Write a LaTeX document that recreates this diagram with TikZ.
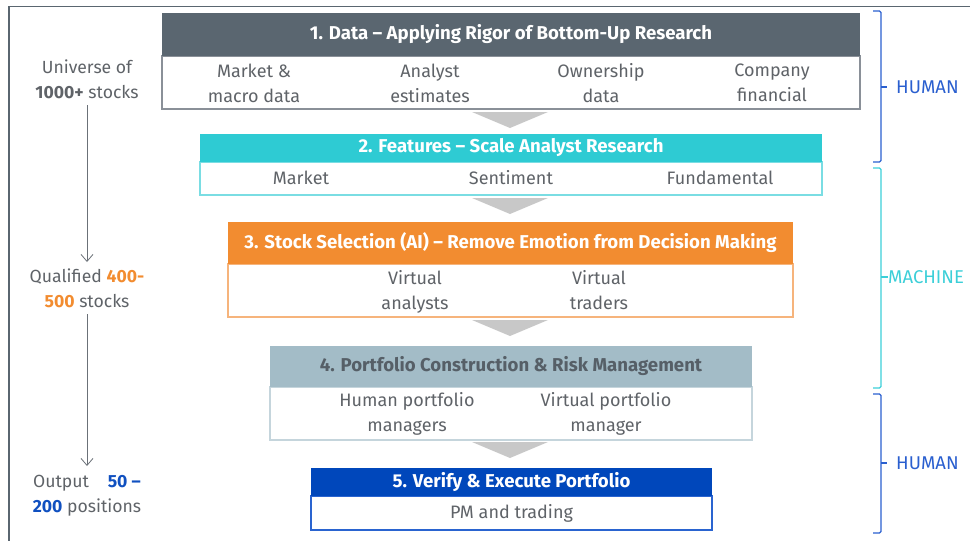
\documentclass[tikz,border=0pt]{standalone}
\usepackage{fontspec}
\setmainfont{Fira Sans}
\usetikzlibrary{arrows.meta}
\definecolor{hdrA}{HTML}{5A6670}
\definecolor{bdrA}{HTML}{8A9098}
\definecolor{hdrB}{HTML}{2ECBD3}
\definecolor{bdrB}{HTML}{7ADDE3}
\definecolor{hdrC}{HTML}{F28C30}
\definecolor{bdrC}{HTML}{F6B47C}
\definecolor{hdrD}{HTML}{A3BCC7}
\definecolor{bdrD}{HTML}{C5D5DC}
\definecolor{ttlD}{HTML}{565F67}
\definecolor{hdrE}{HTML}{0047BB}
\definecolor{bdrE}{HTML}{2A64D0}
\definecolor{txtG}{HTML}{5F6368}
\definecolor{brkB}{HTML}{2A5FCF}
\definecolor{brkC}{HTML}{3CCFD8}
\definecolor{orgT}{HTML}{F28C30}
\definecolor{bluT}{HTML}{1050C0}
\definecolor{chev}{HTML}{C8C8C8}
\definecolor{frm}{HTML}{5A6670}
\definecolor{arw}{HTML}{6B7178}
\tikzset{
  x=1pt, y=-1pt,
  hdr/.style={inner sep=0, outer sep=0, font=\fontsize{18.6}{22}\selectfont\bfseries, text=white},
  bodyrect/.style={inner sep=0, outer sep=0, fill=white, line width=1.2pt},
  item/.style={inner sep=0, anchor=north, align=center, text=txtG, font=\fontsize{18}{25}\selectfont, execute at begin node=\strut},
  side/.style={inner sep=0, align=center, text=txtG, font=\fontsize{17.6}{25}\selectfont},
  chevron/.style={fill=chev, draw=none},
  flow/.style={draw=arw, line width=0.8pt, -{Straight Barb[length=7pt, width=12pt, line width=0.8pt]}},
  brk/.style={line width=1.3pt, rounded corners=1.5pt},
  brklabel/.style={inner sep=0, anchor=west, font=\fontsize{18.5}{22}\selectfont}
}
\begin{document}
\begin{tikzpicture}
\useasboundingbox (0,0) rectangle (970,541);
% outer frame
\draw[frm, line width=1pt] (970,6.5) -- (8.5,6.5) -- (8.5,541);
\draw[frm, line width=2pt] (8.5,6.5) -- (8.5,541);

% chevrons
\fill[chevron] (472,112) -- (548,112) -- (510,128) -- cycle;
\fill[chevron] (472,198) -- (548,198) -- (510,214) -- cycle;
\fill[chevron] (472,320) -- (548,320) -- (510,336) -- cycle;
\fill[chevron] (472,442) -- (548,442) -- (510,458) -- cycle;

% box 1
\node[bodyrect, draw=bdrA, minimum width=698pt, minimum height=53pt] (b1) at (511,82.5) {};
\node[hdr, fill=hdrA, minimum width=698pt, minimum height=43pt] (h1) at (511,34.5) {1. Data – Applying Rigor of Bottom-Up Research};
\node[item] (i11) at (254,63.5) {Market \&\\macro data};
\node[item] (i12) at (430,63.5) {Analyst\\estimates};
\node[item] (i13) at (601,63.5) {Ownership\\data};
\node[item] (i14) at (772,63.5) {Company\\financial};

% box 2
\node[bodyrect, draw=bdrB, minimum width=622pt, minimum height=33pt] (b2) at (511,178.5) {};
\node[hdr, fill=hdrB, minimum width=622pt, minimum height=28pt] (h2) at (511,148) {2. Features – Scale Analyst Research};
\node[item] (i21) at (301,166.5) {Market};
\node[item] (i22) at (511,166.5) {Sentiment};
\node[item] (i23) at (720,166.5) {Fundamental};

% box 3
\node[bodyrect, draw=bdrC, minimum width=565pt, minimum height=53pt] (b3) at (510.5,290.5) {};
\node[hdr, fill=hdrC, minimum width=565pt, minimum height=42pt] (h3) at (510.5,243) {3. Stock Selection (AI) – Remove Emotion from Decision Making};
\node[item] (i31) at (415,270.5) {Virtual\\analysts};
\node[item] (i32) at (599,270.5) {Virtual\\traders};

% box 4
\node[bodyrect, draw=bdrD, minimum width=482pt, minimum height=53pt] (b4) at (511,413.5) {};
\node[hdr, fill=hdrD, text=ttlD, minimum width=482pt, minimum height=41pt] (h4) at (511,366.5) {4. Portfolio Construction \& Risk Management};
\node[item] (i41) at (407,392.5) {Human portfolio\\managers};
\node[item] (i42) at (606,392.5) {Virtual portfolio\\manager};

% box 5
\node[bodyrect, draw=bdrE, minimum width=401pt, minimum height=34pt] (b5) at (511.5,513) {};
\node[hdr, fill=hdrE, minimum width=401pt, minimum height=28pt] (h5) at (511.5,482) {5. Verify \& Execute Portfolio};
\node[item] (i51) at (511.5,500.5) {PM and trading};

% left column
\node[side] (s1) at (87,79) {Universe of\\\textbf{1000+} stocks};
\node[side] (s2) at (87,288) {Qualified \textcolor{orgT}{\textbf{400-}}\\\textcolor{orgT}{\textbf{500}} stocks};
\node[side] (s3) at (87,496) {Output\hspace{0.8em} \textcolor{bluT}{\textbf{50 –}}\\\textcolor{bluT}{\textbf{200}} positions};
\coordinate (a1s) at (87,105);
\coordinate (a1e) at (87,262);
\coordinate (a2s) at (87,314);
\coordinate (a2e) at (87,466);
\draw[flow] (a1s) -- (a1e);
\draw[flow] (a2s) -- (a2e);

% brackets
\draw[brk, brkB] (873,11) -- (881,11) -- (881,162) -- (873,162);
\draw[brkB, line width=1.3pt] (881,87) -- (887,87);
\node[brklabel, text=brkB] (l1) at (896,87) {HUMAN};

\draw[brk, brkC] (873,168) -- (881,168) -- (881,388) -- (873,388);
\draw[brkC, line width=1.3pt] (881,277) -- (888,277);
\node[brklabel, text=brkC] (l2) at (888,277) {MACHINE};

\draw[brk, brkB] (873,394) -- (881,394) -- (881,533) -- (873,533);
\draw[brkB, line width=1.3pt] (881,463) -- (887,463);
\node[brklabel, text=brkB] (l3) at (896,463) {HUMAN};
\end{tikzpicture}
\end{document}
